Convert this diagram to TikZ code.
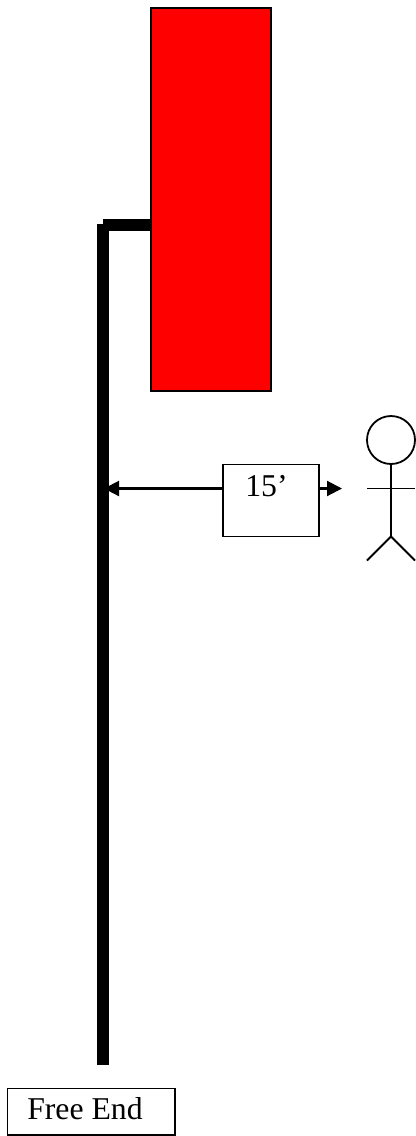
\documentclass[tikz,border=0pt]{standalone}
\usepackage{fontspec}
\setmainfont{Liberation Serif}
\usetikzlibrary{arrows.meta}
\tikzset{
  x=0.75pt,y=-0.75pt,
  boxed/.style={draw=black,line width=1.35pt,inner sep=0pt,outer sep=0pt,anchor=north west},
  label/.style={inner sep=0pt,anchor=base west,font=\fontsize{23.8pt}{24pt}\selectfont},
  pole/.style={line width=9pt,line cap=butt,black},
  dim/.style={line width=1.6pt,-{Triangle[length=11.25pt,width=11.25pt]}},
  figure/.style={line width=1.35pt}
}
\begin{document}
\begin{tikzpicture}
\useasboundingbox (0,0) rectangle (416,1136);
% red block
\node[boxed,fill=red,minimum width=90pt,minimum height=287.25pt] (block) at (151,8) {};
% pole and arm
\coordinate (poleTop) at (103,224);
\coordinate (poleEnd) at (103,1065);
\coordinate (armStart) at (103,224.5);
\coordinate (armEnd) at (block.west |- armStart);
\draw[pole] (poleTop) -- (poleEnd);
\draw[pole] (armStart) -- (armEnd);
% dimension box
\node[boxed,minimum width=72pt,minimum height=54pt] (dimbox) at (223,464.5) {};
\node[label] (dimtext) at (245,496) {15’};
\coordinate (dimLeft) at (104,488.5);
\coordinate (dimRight) at (342,488.5);
\draw[dim] (dimbox.west |- dimLeft) -- (dimLeft);
\draw[dim] (dimbox.east |- dimRight) -- (dimRight);
% stick figure
\node[draw=black,line width=1.35pt,circle,inner sep=0pt,outer sep=0pt,minimum size=36pt] (head) at (391,440) {};
\coordinate (hip) at (391,536.5);
\coordinate (armL) at (367,488.5);
\coordinate (armR) at (415,488.5);
\coordinate (legL) at (367,560.5);
\coordinate (legR) at (415,560.5);
\draw[figure] (head.south) -- (hip);
\draw[figure] (armL) -- (armR);
\draw[figure] (legL) -- (hip) -- (legR);
% free end box
\node[boxed,minimum width=125.5pt,minimum height=35pt] (freebox) at (7.5,1088.5) {};
\node[label] (freetext) at (27,1119) {Free End};
\end{tikzpicture}
\end{document}
